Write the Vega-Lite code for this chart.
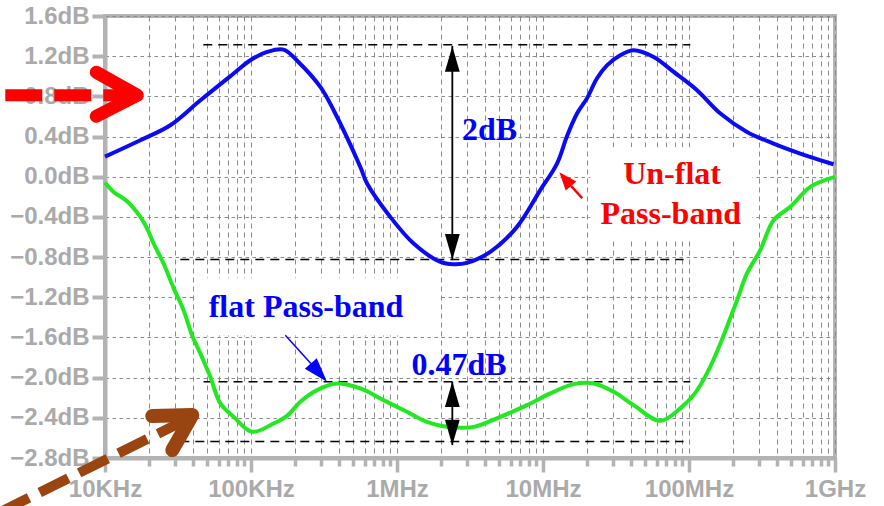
{
  "$schema": "https://vega.github.io/schema/vega-lite/v6.json",
  "width": 730,
  "height": 442,
  "autosize": {"type": "none"},
  "padding": {"left": 105, "top": 16, "right": 49, "bottom": 48},
  "background": "white",
  "config": {"view": {"stroke": "#b3b3b3", "strokeWidth": 4}},
  "datasets": {
    "curves": [
      {"s": "unflat", "freq": 10000, "db": 0.2},
      {"s": "unflat", "freq": 17460, "db": 0.363},
      {"s": "unflat", "freq": 28000, "db": 0.512},
      {"s": "unflat", "freq": 45000, "db": 0.761},
      {"s": "unflat", "freq": 76000, "db": 1.027},
      {"s": "unflat", "freq": 98900, "db": 1.159},
      {"s": "unflat", "freq": 128800, "db": 1.242},
      {"s": "unflat", "freq": 167100, "db": 1.266},
      {"s": "unflat", "freq": 212000, "db": 1.14},
      {"s": "unflat", "freq": 298500, "db": 0.894},
      {"s": "unflat", "freq": 368100, "db": 0.662},
      {"s": "unflat", "freq": 561000, "db": 0.097},
      {"s": "unflat", "freq": 623700, "db": -0.068},
      {"s": "unflat", "freq": 899500, "db": -0.4},
      {"s": "unflat", "freq": 1300000, "db": -0.665},
      {"s": "unflat", "freq": 1982000, "db": -0.848},
      {"s": "unflat", "freq": 2443000, "db": -0.871},
      {"s": "unflat", "freq": 3013000, "db": -0.858},
      {"s": "unflat", "freq": 4355000, "db": -0.748},
      {"s": "unflat", "freq": 6637000, "db": -0.499},
      {"s": "unflat", "freq": 9572000, "db": -0.134},
      {"s": "unflat", "freq": 12470000, "db": 0.131},
      {"s": "unflat", "freq": 14590000, "db": 0.403},
      {"s": "unflat", "freq": 17100000, "db": 0.629},
      {"s": "unflat", "freq": 20000000, "db": 0.78},
      {"s": "unflat", "freq": 23440000, "db": 0.98},
      {"s": "unflat", "freq": 27420000, "db": 1.109},
      {"s": "unflat", "freq": 33810000, "db": 1.209},
      {"s": "unflat", "freq": 41780000, "db": 1.259},
      {"s": "unflat", "freq": 57280000, "db": 1.192},
      {"s": "unflat", "freq": 78520000, "db": 1.043},
      {"s": "unflat", "freq": 113500000, "db": 0.861},
      {"s": "unflat", "freq": 164100000, "db": 0.629},
      {"s": "unflat", "freq": 249500000, "db": 0.446},
      {"s": "unflat", "freq": 379300000, "db": 0.33},
      {"s": "unflat", "freq": 578100000, "db": 0.231},
      {"s": "unflat", "freq": 977200000, "db": 0.124},
      {"s": "flat", "freq": 10000, "db": -0.06},
      {"s": "flat", "freq": 11460, "db": -0.151},
      {"s": "flat", "freq": 14160, "db": -0.244},
      {"s": "flat", "freq": 17460, "db": -0.4},
      {"s": "flat", "freq": 19410, "db": -0.515},
      {"s": "flat", "freq": 21530, "db": -0.665},
      {"s": "flat", "freq": 25180, "db": -0.864},
      {"s": "flat", "freq": 29510, "db": -1.109},
      {"s": "flat", "freq": 34510, "db": -1.328},
      {"s": "flat", "freq": 39450, "db": -1.577},
      {"s": "flat", "freq": 44980, "db": -1.759},
      {"s": "flat", "freq": 52600, "db": -1.992},
      {"s": "flat", "freq": 61660, "db": -2.257},
      {"s": "flat", "freq": 76030, "db": -2.39},
      {"s": "flat", "freq": 101600, "db": -2.539},
      {"s": "flat", "freq": 142900, "db": -2.456},
      {"s": "flat", "freq": 176600, "db": -2.38},
      {"s": "flat", "freq": 217800, "db": -2.24},
      {"s": "flat", "freq": 283100, "db": -2.124},
      {"s": "flat", "freq": 388200, "db": -2.058},
      {"s": "flat", "freq": 561000, "db": -2.107},
      {"s": "flat", "freq": 809100, "db": -2.224},
      {"s": "flat", "freq": 1169000, "db": -2.34},
      {"s": "flat", "freq": 1603000, "db": -2.44},
      {"s": "flat", "freq": 2198000, "db": -2.49},
      {"s": "flat", "freq": 3350000, "db": -2.49},
      {"s": "flat", "freq": 5105000, "db": -2.39},
      {"s": "flat", "freq": 7762000, "db": -2.274},
      {"s": "flat", "freq": 11220000, "db": -2.157},
      {"s": "flat", "freq": 16220000, "db": -2.065},
      {"s": "flat", "freq": 22230000, "db": -2.058},
      {"s": "flat", "freq": 30480000, "db": -2.141},
      {"s": "flat", "freq": 41780000, "db": -2.274},
      {"s": "flat", "freq": 63530000, "db": -2.43},
      {"s": "flat", "freq": 87100000, "db": -2.306},
      {"s": "flat", "freq": 107600000, "db": -2.174},
      {"s": "flat", "freq": 132700000, "db": -1.958},
      {"s": "flat", "freq": 164100000, "db": -1.66},
      {"s": "flat", "freq": 213300000, "db": -1.229},
      {"s": "flat", "freq": 249500000, "db": -0.963},
      {"s": "flat", "freq": 307600000, "db": -0.731},
      {"s": "flat", "freq": 379300000, "db": -0.433},
      {"s": "flat", "freq": 494300000, "db": -0.3},
      {"s": "flat", "freq": 677600000, "db": -0.101},
      {"s": "flat", "freq": 1000000000, "db": -0.002}
    ],
    "boxes": [
      {"freq": 41500, "freq2": 1980000, "db": -1.01, "db2": -1.58},
      {"freq": 21100000, "freq2": 272000000, "db": 0.294, "db2": -0.632}
    ],
    "hlines": [
      {"freq": 47100, "freq2": 102000000, "db": 1.315},
      {"freq": 32800, "freq2": 91800000, "db": -0.824},
      {"freq": 47300, "freq2": 102000000, "db": -2.042},
      {"freq": 32800, "freq2": 91800000, "db": -2.636}
    ],
    "vrules": [
      {"freq": 2393000, "db": 1.302, "db2": -0.831},
      {"freq": 2393000, "db": -2.042, "db2": -2.672}
    ],
    "upheads": [
      {"freq": 2393000, "db": 1.172},
      {"freq": 2393000, "db": -2.166}
    ],
    "downheads": [
      {"freq": 2393000, "db": -0.698},
      {"freq": 2393000, "db": -2.547}
    ],
    "bluetext": [
      {"t": "2dB", "freq": 4305000, "db": 0.363},
      {"t": "0.47dB", "freq": 2661000, "db": -1.975},
      {"t": "flat Pass-band", "freq": 238300, "db": -1.395}
    ],
    "redtext": [
      {"t": "Un-flat", "freq": 76560000, "db": -0.068},
      {"t": "Pass-band", "freq": 75000000, "db": -0.466}
    ]
  },
  "layer": [
    {
      "data": {"name": "boxes"},
      "mark": {"type": "rect", "fill": "white", "strokeWidth": 0},
      "encoding": {
        "x": {
          "field": "freq", "type": "quantitative", "title": null,
          "scale": {"type": "log", "domain": [10000, 1000000000], "nice": false},
          "axis": {
            "orient": "bottom",
            "values": [10000, 20000, 30000, 40000, 50000, 60000, 70000, 80000, 90000, 100000, 200000, 300000, 400000, 500000, 600000, 700000, 800000, 900000, 1000000, 2000000, 3000000, 4000000, 5000000, 6000000, 7000000, 8000000, 9000000, 10000000, 20000000, 30000000, 40000000, 50000000, 60000000, 70000000, 80000000, 90000000, 100000000, 200000000, 300000000, 400000000, 500000000, 600000000, 700000000, 800000000, 900000000, 1000000000],
            "labelExpr": "datum.value == 10000 ? '10KHz' : datum.value == 100000 ? '100KHz' : datum.value == 1000000 ? '1MHz' : datum.value == 10000000 ? '10MHz' : datum.value == 100000000 ? '100MHz' : datum.value == 1000000000 ? '1GHz' : ''",
            "grid": true, "gridColor": "#8a8a8a", "gridDash": [5, 4], "gridWidth": 1,
            "domainColor": "#b3b3b3", "domainWidth": 4,
            "tickColor": "#b3b3b3", "tickWidth": 3.5,
            "tickSize": {"condition": {"test": "indexof([10000,100000,1000000,10000000,100000000,1000000000], datum.value) >= 0", "value": 14}, "value": 8},
            "labelFont": "Liberation Sans", "labelFontWeight": "bold", "labelFontSize": 24, "labelColor": "#aaaaaa",
            "labelPadding": 5, "labelOverlap": false, "labelFlush": false, "labelBound": false,
            "title": null
          }
        },
        "x2": {"field": "freq2"},
        "y": {
          "field": "db", "type": "quantitative", "title": null,
          "scale": {"domain": [-2.8, 1.6], "nice": false, "zero": false},
          "axis": {
            "orient": "left",
            "values": [-2.8, -2.4, -2, -1.6, -1.2, -0.8, -0.4, 0, 0.4, 0.8, 1.2, 1.6],
            "labelExpr": "format(datum.value, '.1f') + 'dB'",
            "grid": true, "gridColor": "#8a8a8a", "gridDash": [3.5, 3.5], "gridWidth": 1,
            "domainColor": "#b3b3b3", "domainWidth": 4,
            "tickColor": "#b3b3b3", "tickWidth": 4, "tickSize": 13,
            "labelFont": "Liberation Sans", "labelFontWeight": "bold", "labelFontSize": 24, "labelColor": "#aaaaaa",
            "labelPadding": 3, "labelOverlap": false,
            "title": null
          }
        },
        "y2": {"field": "db2"}
      }
    },
    {
      "data": {"name": "hlines"},
      "mark": {"type": "rule", "color": "black", "strokeWidth": 1.5, "strokeDash": [9, 6]},
      "encoding": {
        "x": {"field": "freq", "type": "quantitative", "title": null},
        "x2": {"field": "freq2"},
        "y": {"field": "db", "type": "quantitative", "title": null}
      }
    },
    {
      "data": {"name": "curves"},
      "mark": {"type": "line", "strokeWidth": 4, "interpolate": "catmull-rom"},
      "encoding": {
        "x": {"field": "freq", "type": "quantitative", "title": null},
        "y": {"field": "db", "type": "quantitative", "title": null},
        "color": {"field": "s", "type": "nominal", "scale": {"domain": ["unflat", "flat"], "range": ["#0a0af5", "#22e822"]}, "legend": null}
      }
    },
    {
      "data": {"name": "vrules"},
      "mark": {"type": "rule", "color": "black", "strokeWidth": 1.8},
      "encoding": {
        "x": {"field": "freq", "type": "quantitative", "title": null},
        "y": {"field": "db", "type": "quantitative", "title": null},
        "y2": {"field": "db2"}
      }
    },
    {
      "data": {"name": "upheads"},
      "mark": {"type": "point", "shape": "M0,-1L0.58,1L-0.58,1Z", "filled": true, "color": "black", "opacity": 1, "size": 650, "strokeWidth": 0},
      "encoding": {
        "x": {"field": "freq", "type": "quantitative", "title": null},
        "y": {"field": "db", "type": "quantitative", "title": null}
      }
    },
    {
      "data": {"name": "downheads"},
      "mark": {"type": "point", "shape": "M0,-1L0.58,1L-0.58,1Z", "angle": 180, "filled": true, "color": "black", "opacity": 1, "size": 650, "strokeWidth": 0},
      "encoding": {
        "x": {"field": "freq", "type": "quantitative", "title": null},
        "y": {"field": "db", "type": "quantitative", "title": null}
      }
    },
    {
      "data": {"values": [{"freq": 171800, "db": -1.577}, {"freq": 257000, "db": -1.859}]},
      "mark": {"type": "line", "color": "#0000ff", "strokeWidth": 1.5},
      "encoding": {
        "x": {"field": "freq", "type": "quantitative", "title": null},
        "y": {"field": "db", "type": "quantitative", "title": null}
      }
    },
    {
      "data": {"values": [{"freq": 291700, "db": -1.95}]},
      "mark": {"type": "point", "shape": "M0,-1L0.65,1L-0.65,1Z", "angle": 138.6, "filled": true, "color": "#0000ff", "opacity": 1, "size": 600, "strokeWidth": 0},
      "encoding": {
        "x": {"field": "freq", "type": "quantitative", "title": null},
        "y": {"field": "db", "type": "quantitative", "title": null}
      }
    },
    {
      "data": {"values": [{"freq": 15560000, "db": -0.092}, {"freq": 18580000, "db": -0.214}]},
      "mark": {"type": "line", "color": "#ff0000", "strokeWidth": 2.5},
      "encoding": {
        "x": {"field": "freq", "type": "quantitative", "title": null},
        "y": {"field": "db", "type": "quantitative", "title": null}
      }
    },
    {
      "data": {"values": [{"freq": 14190000, "db": -0.024}]},
      "mark": {"type": "point", "shape": "M0,-1L0.78,1L-0.78,1Z", "angle": 319.4, "filled": true, "color": "#ff0000", "opacity": 1, "size": 324, "strokeWidth": 0},
      "encoding": {
        "x": {"field": "freq", "type": "quantitative", "title": null},
        "y": {"field": "db", "type": "quantitative", "title": null}
      }
    },
    {
      "data": {"name": "bluetext"},
      "mark": {"type": "text", "font": "Liberation Serif", "fontWeight": "bold", "fontSize": 32, "color": "#0000ff", "align": "center", "baseline": "alphabetic"},
      "encoding": {
        "x": {"field": "freq", "type": "quantitative", "title": null},
        "y": {"field": "db", "type": "quantitative", "title": null},
        "text": {"field": "t"}
      }
    },
    {
      "data": {"name": "redtext"},
      "mark": {"type": "text", "font": "Liberation Serif", "fontWeight": "bold", "fontSize": 32, "color": "#ff0000", "align": "center", "baseline": "alphabetic"},
      "encoding": {
        "x": {"field": "freq", "type": "quantitative", "title": null},
        "y": {"field": "db", "type": "quantitative", "title": null},
        "text": {"field": "t"}
      }
    },
    {
      "data": {"values": [{"freq": 2075, "db": 0.811}, {"freq": 16640, "db": 0.811}]},
      "mark": {"type": "line", "color": "#ff0000", "strokeWidth": 12, "strokeDash": [37, 12], "strokeCap": "butt", "clip": false},
      "encoding": {
        "x": {"field": "freq", "type": "quantitative", "title": null},
        "y": {"field": "db", "type": "quantitative", "title": null}
      }
    },
    {
      "data": {"values": [{"freq": 8710, "db": 1.04, "o": 1}, {"freq": 16640, "db": 0.811, "o": 2}, {"freq": 8710, "db": 0.602, "o": 3}]},
      "mark": {"type": "line", "color": "#ff0000", "strokeWidth": 13, "strokeCap": "round", "strokeJoin": "round", "clip": false},
      "encoding": {
        "x": {"field": "freq", "type": "quantitative", "title": null},
        "y": {"field": "db", "type": "quantitative", "title": null},
        "order": {"field": "o"}
      }
    },
    {
      "data": {"values": [{"freq": 1919, "db": -3.338, "o": 1}, {"freq": 35480, "db": -2.423, "o": 2}]},
      "mark": {"type": "line", "color": "#994411", "strokeWidth": 10, "strokeDash": [32, 12], "strokeCap": "butt", "clip": false},
      "encoding": {
        "x": {"field": "freq", "type": "quantitative", "title": null},
        "y": {"field": "db", "type": "quantitative", "title": null},
        "order": {"field": "o"}
      }
    },
    {
      "data": {"values": [{"freq": 21090, "db": -2.383, "o": 1}, {"freq": 39630, "db": -2.373, "o": 2}, {"freq": 28910, "db": -2.721, "o": 3}]},
      "mark": {"type": "line", "color": "#994411", "strokeWidth": 14, "strokeCap": "round", "strokeJoin": "round", "clip": false},
      "encoding": {
        "x": {"field": "freq", "type": "quantitative", "title": null},
        "y": {"field": "db", "type": "quantitative", "title": null},
        "order": {"field": "o"}
      }
    }
  ]
}
